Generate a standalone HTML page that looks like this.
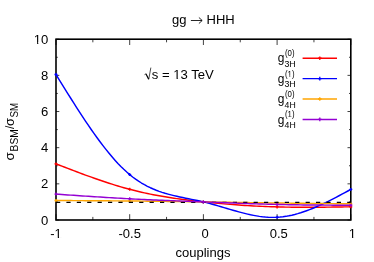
<!DOCTYPE html>
<html><head><meta charset="utf-8"><style>
html,body{margin:0;padding:0;background:#fff;}
svg{display:block;}
text{font-family:"Liberation Sans",sans-serif;fill:#000;}
</style></head><body>
<svg style="will-change:transform" width="374" height="262" viewBox="0 0 374 262">
<rect width="374" height="262" fill="#fff"/>
<path d="M56.00,220.0v-5.8M56.00,39.2v5.8M92.85,220.0v-3.1M92.85,39.2v3.1M129.70,220.0v-5.8M129.70,39.2v5.8M166.55,220.0v-3.1M166.55,39.2v3.1M203.40,220.0v-5.8M203.40,39.2v5.8M240.25,220.0v-3.1M240.25,39.2v3.1M277.10,220.0v-5.8M277.10,39.2v5.8M313.95,220.0v-3.1M313.95,39.2v3.1M350.80,220.0v-5.8M350.80,39.2v5.8M56.0,220.00h3.3M350.8,220.00h-3.3M56.0,201.92h1.8M350.8,201.92h-1.8M56.0,183.84h3.3M350.8,183.84h-3.3M56.0,165.76h1.8M350.8,165.76h-1.8M56.0,147.68h3.3M350.8,147.68h-3.3M56.0,129.60h1.8M350.8,129.60h-1.8M56.0,111.52h3.3M350.8,111.52h-3.3M56.0,93.44h1.8M350.8,93.44h-1.8M56.0,75.36h3.3M350.8,75.36h-3.3M56.0,57.28h1.8M350.8,57.28h-1.8M56.0,39.20h3.3M350.8,39.20h-3.3" stroke="#000" stroke-width="0.75" fill="none"/>
<rect x="56.0" y="39.2" width="294.8" height="180.8" fill="none" stroke="#000" stroke-width="1.6"/>
<path d="M56.00,163.90 L58.95,165.03 L61.90,166.17 L64.84,167.30 L67.79,168.43 L70.74,169.55 L73.69,170.67 L76.64,171.78 L79.58,172.88 L82.53,173.98 L85.48,175.06 L88.43,176.13 L91.38,177.19 L94.32,178.24 L97.27,179.27 L100.22,180.28 L103.17,181.28 L106.12,182.26 L109.06,183.22 L112.01,184.16 L114.96,185.08 L117.91,185.97 L120.86,186.84 L123.80,187.69 L126.75,188.51 L129.70,189.30 L132.65,190.06 L135.60,190.80 L138.54,191.51 L141.49,192.19 L144.44,192.85 L147.39,193.48 L150.34,194.09 L153.28,194.68 L156.23,195.24 L159.18,195.78 L162.13,196.31 L165.08,196.81 L168.02,197.29 L170.97,197.76 L173.92,198.20 L176.87,198.63 L179.82,199.05 L182.76,199.45 L185.71,199.84 L188.66,200.21 L191.61,200.57 L194.56,200.92 L197.50,201.25 L200.45,201.58 L203.40,201.90 L206.35,202.21 L209.30,202.51 L212.24,202.80 L215.19,203.08 L218.14,203.36 L221.09,203.62 L224.04,203.88 L226.98,204.13 L229.93,204.37 L232.88,204.60 L235.83,204.82 L238.78,205.03 L241.72,205.23 L244.67,205.42 L247.62,205.60 L250.57,205.78 L253.52,205.94 L256.46,206.10 L259.41,206.24 L262.36,206.37 L265.31,206.50 L268.26,206.61 L271.20,206.72 L274.15,206.81 L277.10,206.90 L280.05,206.98 L283.00,207.04 L285.94,207.10 L288.89,207.14 L291.84,207.18 L294.79,207.21 L297.74,207.24 L300.68,207.25 L303.63,207.26 L306.58,207.26 L309.53,207.26 L312.48,207.25 L315.42,207.24 L318.37,207.22 L321.32,207.19 L324.27,207.17 L327.22,207.13 L330.16,207.10 L333.11,207.06 L336.06,207.02 L339.01,206.98 L341.96,206.94 L344.90,206.89 L347.85,206.85 L350.80,206.80" stroke="#ff0000" stroke-width="1.45" fill="none" stroke-linejoin="round"/>
<path d="M54.50,163.90H57.50M56.00,162.40V165.40M128.20,189.30H131.20M129.70,187.80V190.80M201.90,201.90H204.90M203.40,200.40V203.40M275.60,206.90H278.60M277.10,205.40V208.40M349.30,206.80H352.30M350.80,205.30V208.30" stroke="#ff0000" stroke-width="1.3" fill="none"/>
<path d="M56.00,74.50 L58.95,79.28 L61.90,84.05 L64.84,88.81 L67.79,93.54 L70.74,98.25 L73.69,102.92 L76.64,107.54 L79.58,112.11 L82.53,116.62 L85.48,121.07 L88.43,125.44 L91.38,129.72 L94.32,133.92 L97.27,138.02 L100.22,142.02 L103.17,145.90 L106.12,149.67 L109.06,153.31 L112.01,156.81 L114.96,160.17 L117.91,163.39 L120.86,166.44 L123.80,169.34 L126.75,172.06 L129.70,174.60 L132.65,176.96 L135.60,179.14 L138.54,181.15 L141.49,183.01 L144.44,184.71 L147.39,186.28 L150.34,187.72 L153.28,189.03 L156.23,190.23 L159.18,191.33 L162.13,192.34 L165.08,193.27 L168.02,194.11 L170.97,194.90 L173.92,195.63 L176.87,196.31 L179.82,196.95 L182.76,197.57 L185.71,198.17 L188.66,198.76 L191.61,199.35 L194.56,199.95 L197.50,200.57 L200.45,201.22 L203.40,201.90 L206.35,202.63 L209.30,203.40 L212.24,204.20 L215.19,205.03 L218.14,205.88 L221.09,206.75 L224.04,207.62 L226.98,208.50 L229.93,209.37 L232.88,210.23 L235.83,211.07 L238.78,211.89 L241.72,212.67 L244.67,213.42 L247.62,214.12 L250.57,214.78 L253.52,215.37 L256.46,215.90 L259.41,216.37 L262.36,216.75 L265.31,217.05 L268.26,217.27 L271.20,217.38 L274.15,217.40 L277.10,217.30 L280.05,217.09 L283.00,216.77 L285.94,216.34 L288.89,215.82 L291.84,215.19 L294.79,214.47 L297.74,213.67 L300.68,212.78 L303.63,211.81 L306.58,210.77 L309.53,209.66 L312.48,208.48 L315.42,207.24 L318.37,205.95 L321.32,204.61 L324.27,203.22 L327.22,201.79 L330.16,200.32 L333.11,198.82 L336.06,197.29 L339.01,195.74 L341.96,194.17 L344.90,192.59 L347.85,191.00 L350.80,189.40" stroke="#0000ff" stroke-width="1.45" fill="none" stroke-linejoin="round"/>
<path d="M54.50,74.50H57.50M56.00,73.00V76.00M128.20,174.60H131.20M129.70,173.10V176.10M201.90,201.90H204.90M203.40,200.40V203.40M275.60,217.30H278.60M277.10,215.80V218.80M349.30,189.40H352.30M350.80,187.90V190.90" stroke="#0000ff" stroke-width="1.3" fill="none"/>
<path d="M56.00,200.50 L58.95,200.52 L61.90,200.53 L64.84,200.55 L67.79,200.57 L70.74,200.58 L73.69,200.60 L76.64,200.62 L79.58,200.63 L82.53,200.65 L85.48,200.67 L88.43,200.69 L91.38,200.71 L94.32,200.73 L97.27,200.75 L100.22,200.77 L103.17,200.79 L106.12,200.81 L109.06,200.83 L112.01,200.85 L114.96,200.87 L117.91,200.90 L120.86,200.92 L123.80,200.95 L126.75,200.97 L129.70,201.00 L132.65,201.03 L135.60,201.06 L138.54,201.08 L141.49,201.11 L144.44,201.15 L147.39,201.18 L150.34,201.21 L153.28,201.24 L156.23,201.28 L159.18,201.31 L162.13,201.34 L165.08,201.38 L168.02,201.42 L170.97,201.45 L173.92,201.49 L176.87,201.53 L179.82,201.57 L182.76,201.61 L185.71,201.65 L188.66,201.69 L191.61,201.73 L194.56,201.77 L197.50,201.81 L200.45,201.86 L203.40,201.90 L206.35,201.94 L209.30,201.99 L212.24,202.03 L215.19,202.08 L218.14,202.12 L221.09,202.17 L224.04,202.21 L226.98,202.26 L229.93,202.30 L232.88,202.35 L235.83,202.40 L238.78,202.44 L241.72,202.49 L244.67,202.53 L247.62,202.58 L250.57,202.62 L253.52,202.67 L256.46,202.71 L259.41,202.75 L262.36,202.80 L265.31,202.84 L268.26,202.88 L271.20,202.92 L274.15,202.96 L277.10,203.00 L280.05,203.04 L283.00,203.08 L285.94,203.11 L288.89,203.15 L291.84,203.19 L294.79,203.22 L297.74,203.25 L300.68,203.29 L303.63,203.32 L306.58,203.35 L309.53,203.39 L312.48,203.42 L315.42,203.45 L318.37,203.48 L321.32,203.51 L324.27,203.54 L327.22,203.57 L330.16,203.60 L333.11,203.63 L336.06,203.66 L339.01,203.69 L341.96,203.71 L344.90,203.74 L347.85,203.77 L350.80,203.80" stroke="#ffa500" stroke-width="1.45" fill="none" stroke-linejoin="round"/>
<path d="M54.50,200.50H57.50M56.00,199.00V202.00M128.20,201.00H131.20M129.70,199.50V202.50M201.90,201.90H204.90M203.40,200.40V203.40M275.60,203.00H278.60M277.10,201.50V204.50M349.30,203.80H352.30M350.80,202.30V205.30" stroke="#ffa500" stroke-width="1.3" fill="none"/>
<path d="M56.0,202.4H350.8" stroke="#000" stroke-width="1.4" stroke-dasharray="4.2 6.2" fill="none"/>
<path d="M56.00,194.10 L58.95,194.30 L61.90,194.51 L64.84,194.71 L67.79,194.92 L70.74,195.12 L73.69,195.32 L76.64,195.52 L79.58,195.72 L82.53,195.92 L85.48,196.12 L88.43,196.32 L91.38,196.51 L94.32,196.70 L97.27,196.89 L100.22,197.08 L103.17,197.27 L106.12,197.45 L109.06,197.63 L112.01,197.81 L114.96,197.98 L117.91,198.15 L120.86,198.32 L123.80,198.48 L126.75,198.64 L129.70,198.80 L132.65,198.95 L135.60,199.10 L138.54,199.25 L141.49,199.39 L144.44,199.53 L147.39,199.66 L150.34,199.79 L153.28,199.92 L156.23,200.05 L159.18,200.17 L162.13,200.30 L165.08,200.42 L168.02,200.54 L170.97,200.65 L173.92,200.77 L176.87,200.88 L179.82,201.00 L182.76,201.11 L185.71,201.22 L188.66,201.34 L191.61,201.45 L194.56,201.56 L197.50,201.67 L200.45,201.79 L203.40,201.90 L206.35,202.01 L209.30,202.13 L212.24,202.24 L215.19,202.36 L218.14,202.47 L221.09,202.59 L224.04,202.70 L226.98,202.82 L229.93,202.93 L232.88,203.04 L235.83,203.15 L238.78,203.26 L241.72,203.37 L244.67,203.47 L247.62,203.58 L250.57,203.68 L253.52,203.78 L256.46,203.87 L259.41,203.97 L262.36,204.06 L265.31,204.14 L268.26,204.23 L271.20,204.30 L274.15,204.38 L277.10,204.45 L280.05,204.52 L283.00,204.58 L285.94,204.64 L288.89,204.69 L291.84,204.74 L294.79,204.79 L297.74,204.83 L300.68,204.87 L303.63,204.91 L306.58,204.95 L309.53,204.98 L312.48,205.01 L315.42,205.04 L318.37,205.06 L321.32,205.08 L324.27,205.11 L327.22,205.13 L330.16,205.14 L333.11,205.16 L336.06,205.18 L339.01,205.19 L341.96,205.21 L344.90,205.22 L347.85,205.24 L350.80,205.25" stroke="#9400d3" stroke-width="1.45" fill="none" stroke-linejoin="round"/>
<path d="M54.50,194.10H57.50M56.00,192.60V195.60M128.20,198.80H131.20M129.70,197.30V200.30M201.90,201.90H204.90M203.40,200.40V203.40M275.60,204.45H278.60M277.10,202.95V205.95M349.30,205.25H352.30M350.80,203.75V206.75" stroke="#9400d3" stroke-width="1.3" fill="none"/>
<path d="M302.6,58.2H337" stroke="#ff0000" stroke-width="1.45" fill="none"/>
<path d="M318.0,58.2h3.6M319.8,56.400000000000006v3.6" stroke="#ff0000" stroke-width="1.3" fill="none"/>
<text transform="translate(277.63,62.40) scale(0.9261,1)" font-size="12.9">g</text>
<text transform="translate(284.42,66.80) scale(1.0276,1)" font-size="8.6">3H</text>
<text transform="translate(284.93,56.20) scale(0.9324,1)" font-size="8.4">(0)</text>
<path d="M302.6,78.6H337" stroke="#0000ff" stroke-width="1.45" fill="none"/>
<path d="M318.0,78.6h3.6M319.8,76.8v3.6" stroke="#0000ff" stroke-width="1.3" fill="none"/>
<text transform="translate(277.63,82.80) scale(0.9261,1)" font-size="12.9">g</text>
<text transform="translate(284.42,87.20) scale(1.0276,1)" font-size="8.6">3H</text>
<text transform="translate(284.93,76.60) scale(0.9324,1)" font-size="8.4">(1)</text><rect x="287.70" y="75.67" width="1.81" height="1.98" fill="#fff"/><rect x="290.20" y="75.67" width="1.72" height="1.98" fill="#fff"/>
<path d="M302.6,99.0H337" stroke="#ffa500" stroke-width="1.45" fill="none"/>
<path d="M318.0,99.0h3.6M319.8,97.2v3.6" stroke="#ffa500" stroke-width="1.3" fill="none"/>
<text transform="translate(277.63,103.20) scale(0.9261,1)" font-size="12.9">g</text>
<text transform="translate(284.56,107.60) scale(1.0140,1)" font-size="8.6">4H</text>
<text transform="translate(284.93,97.00) scale(0.9324,1)" font-size="8.4">(0)</text>
<path d="M302.6,119.4H337" stroke="#9400d3" stroke-width="1.45" fill="none"/>
<path d="M318.0,119.4h3.6M319.8,117.60000000000001v3.6" stroke="#9400d3" stroke-width="1.3" fill="none"/>
<text transform="translate(277.63,123.60) scale(0.9261,1)" font-size="12.9">g</text>
<text transform="translate(284.56,128.00) scale(1.0140,1)" font-size="8.6">4H</text>
<text transform="translate(284.93,117.40) scale(0.9324,1)" font-size="8.4">(1)</text><rect x="287.70" y="116.47" width="1.81" height="1.98" fill="#fff"/><rect x="290.20" y="116.47" width="1.72" height="1.98" fill="#fff"/>
<text x="172" y="24.4" font-size="13">gg</text>
<path d="M190.9,20.5H202M198.9,17.5L202.2,20.5L198.9,23.5" stroke="#000" stroke-width="0.85" fill="none"/>
<text x="206.5" y="24.4" font-size="13">HHH</text>
<text x="41.11" y="224.80" font-size="13.1">0</text>
<text x="41.11" y="188.14" font-size="13.1">2</text>
<text x="41.11" y="151.98" font-size="13.1">4</text>
<text x="41.11" y="115.82" font-size="13.1">6</text>
<text x="41.11" y="79.66" font-size="13.1">8</text>
<text x="33.83" y="43.50" font-size="13.1">10</text><rect x="34.09" y="42.22" width="3.03" height="2.33" fill="#fff"/><rect x="38.28" y="42.22" width="2.88" height="2.33" fill="#fff"/>
<text x="50.22" y="238.30" font-size="13">-1</text><rect x="54.81" y="237.03" width="3.01" height="2.32" fill="#fff"/><rect x="58.97" y="237.03" width="2.86" height="2.32" fill="#fff"/>
<text x="118.50" y="238.30" font-size="13">-0.5</text>
<text x="201.39" y="238.30" font-size="13">0</text>
<text x="269.66" y="238.30" font-size="13">0.5</text>
<text x="348.79" y="238.30" font-size="13">1</text><rect x="349.05" y="237.03" width="3.01" height="2.32" fill="#fff"/><rect x="353.20" y="237.03" width="2.86" height="2.32" fill="#fff"/>
<text x="203" y="256.6" font-size="13" text-anchor="middle">couplings</text>
<path d="M144.5,74.7l1.4,-0.9M150.85,67.6L148.75,79.3" stroke="#000" stroke-width="0.7" fill="none"/>
<path d="M145.9,73.8L148.7,79.2" stroke="#000" stroke-width="1.25" fill="none"/>
<text transform="translate(151.80,79.30) scale(1.0089,1)" font-size="13">s = 13 TeV</text><rect x="173.56" y="78.03" width="3.04" height="2.32" fill="#fff"/><rect x="177.76" y="78.03" width="2.89" height="2.32" fill="#fff"/>
<g transform="translate(14.3,160.3) rotate(-90)"><text transform="translate(-0.12,0.00) scale(1.0917,1)" font-size="12.2">σ</text><text transform="translate(8.90,4.00) scale(0.9799,1)" font-size="10.4">BSM</text><text transform="translate(31.20,0.10) scale(0.8889,1)" font-size="13.6">/</text><text transform="translate(34.40,0.00) scale(1.0492,1)" font-size="12.2">σ</text><text transform="translate(42.79,4.00) scale(0.9400,1)" font-size="10.4">SM</text></g>
</svg>
</body></html>
